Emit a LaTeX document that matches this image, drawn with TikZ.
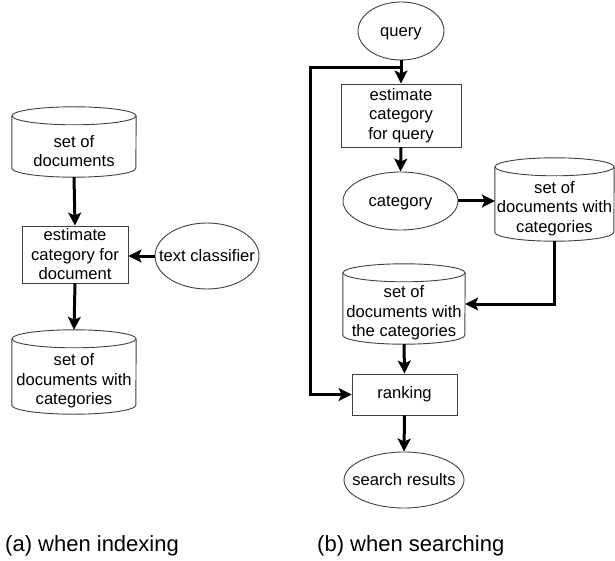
\documentclass[tikz,border=0pt]{standalone}
\usepackage{fontspec}
\setmainfont{Liberation Sans}
\usetikzlibrary{shapes.geometric,arrows.meta,calc}
\newcommand\ctext[1]{\makebox[0pt]{\smash{\raisebox{-0.33em}{#1}}}}
\newcommand\cylout[2]{%
  \draw[cylline] ([yshift=9pt]#1.north west) -- ([yshift=9pt]#1.south west)
    arc[start angle=180,end angle=360,x radius=#2,y radius=9pt] -- ([yshift=9pt]#1.north east);
  \draw[cylline] ([yshift=9pt]#1.north) ellipse[x radius=#2,y radius=9pt];
  \coordinate (#1top) at ([yshift=18pt]#1.north);}
\tikzset{
  lbl/.style={font=\fontsize{16.6pt}{19.5pt}\selectfont, align=center, inner sep=0pt},
  boxnode/.style={lbl, draw=black!75, line width=0.9pt, rectangle},
  ellnode/.style={lbl, draw=black!75, line width=0.9pt, ellipse},
  cylbody/.style={lbl, rectangle},
  cylline/.style={draw=black!75, line width=0.9pt},
  conn/.style={line width=3pt, -{Stealth[length=13pt,width=13pt,inset=3pt]}},
  captext/.style={font=\fontsize{22pt}{26pt}\selectfont, inner sep=0pt, anchor=base west}
}
\begin{document}
\begin{tikzpicture}[x=1pt,y=-1pt]
\useasboundingbox (0,0) rectangle (615,561);

% ---------- (a) ----------
\node[cylbody, minimum width=124pt, minimum height=52pt] (c1) at (74,151) {set of\\documents};
\cylout{c1}{62pt}
\node[boxnode, minimum width=106pt, minimum height=57pt] (box1) at (75,254.5) {estimate\\category for\\document};
\node[ellnode, minimum width=104pt, minimum height=66pt] (ell1) at (207,256) {\ctext{text classifier}};
\node[cylbody, minimum width=124pt, minimum height=66pt] (c2) at (74,381) {set of\\documents with\\categories};
\cylout{c2}{62pt}

\draw[conn] (c1.south) -- (box1.north);
\draw[conn] (ell1.west) -- (ell1.west -| box1.east);
\draw[conn] (box1.south) -- (c2top);

% ---------- (b) ----------
\node[ellnode, minimum width=86pt, minimum height=58pt] (query) at (401,31) {\ctext{query}};
\node[boxnode, minimum width=120pt, minimum height=63pt] (box2) at (401,115.5) {estimate\\category\\for query};
\node[ellnode, minimum width=115pt, minimum height=58pt] (cat) at (400.5,201) {\ctext{category}};
\node[cylbody, minimum width=119pt, minimum height=65pt] (c3) at (554.5,208.5) {set of\\documents with\\categories};
\cylout{c3}{59.5pt}
\node[cylbody, minimum width=122pt, minimum height=62pt] (c4) at (404,313) {set of\\documents with\\the categories};
\cylout{c4}{61pt}
\node[boxnode, minimum width=105pt, minimum height=41pt] (rank) at (404.5,394.5) {ranking};
\node[ellnode, minimum width=120pt, minimum height=56pt] (res) at (404,480) {\ctext{search results}};

\coordinate (j) at (401,68);
\coordinate (lc) at (310,68);

\draw[conn] (query.south) -- (box2.north);
\draw[conn] (j) -- (lc) |- (rank.west);
\draw[conn] (box2.south) -- (cat.north);
\draw[conn] (cat.east) -- (cat.east -| c3.west);
\draw[conn] (c3.south) |- ([yshift=9pt]c4.east);
\draw[conn] (c4.south) -- (rank.north);
\draw[conn] (rank.south) -- (res.north);

% captions
\node[captext] (capa) at (5,551) {(a) when indexing};
\node[captext] (capb) at (317,551) {(b) when searching};
\end{tikzpicture}
\end{document}
